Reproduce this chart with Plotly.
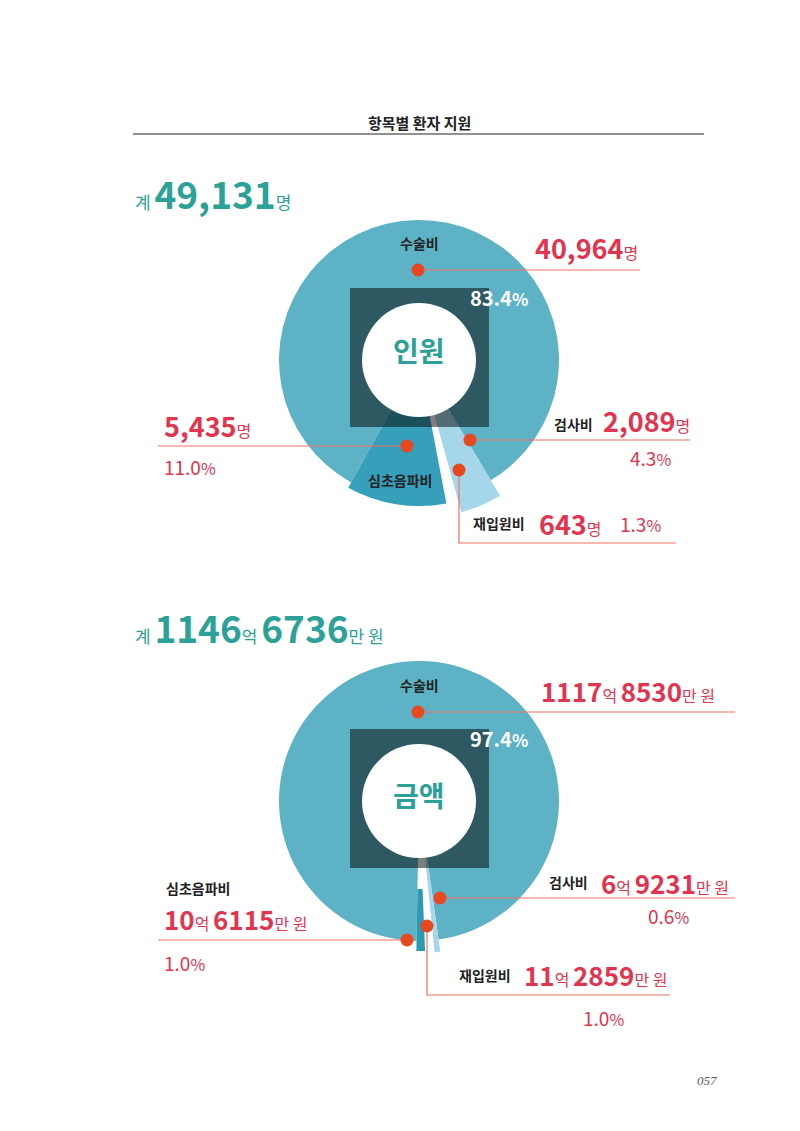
import plotly.graph_objects as go

W, H = 800, 1131

# ---------------- data ----------------
categories = ["수술비", "검사비", "재입원비", "심초음파비"]
people_counts = [40964, 2089, 643, 5435]
people_pct = [83.4, 4.3, 1.3, 11.0]
people_total = 49131
amount_man = [11178530, 69231, 112859, 106115]     # 단위: 만 원
amount_pct = [97.4, 0.6, 1.0, 1.0]
amount_total_man = 11466736

# ---------------- style ----------------
slice_colors_1 = ["#5db2c6", "#a6d6ea", "#ffffff", "#369fb9"]
slice_r_1 = [140, 158, 140, 146]
slice_base_1 = [0, 55, 0, 0]
start_1 = 209

slice_colors_2 = ["#5db2c6", "#a6d6ea", "#ffffff", "#2b9ab2"]
slice_r_2 = [140, 152, 140, 150]
slice_base_2 = [0, 46, 0, 88]
start_2 = 181

TEAL = "#2ba197"
RED = "#e2344f"
LINE = "#ef7264"
DOT = "#e8481f"
FONT = "Noto Sans CJK KR"


def px(x):
    return x / W


def py(y):
    return 1 - y / H


def angles(values, start):
    tot = float(sum(values))
    widths = [v / tot * 360 for v in values]
    thetas, acc = [], start
    for w in widths:
        thetas.append(acc + w / 2)
        acc += w
    return thetas, widths


fig = go.Figure()

for values, colors, radii, bases, start, pol in [
    (people_counts, slice_colors_1, slice_r_1, slice_base_1, start_1, "polar"),
    (amount_man, slice_colors_2, slice_r_2, slice_base_2, start_2, "polar2"),
]:
    thetas, widths = angles(values, start)
    for i, cat in enumerate(categories):
        fig.add_trace(go.Barpolar(
            r=[radii[i] - bases[i]], theta=[thetas[i]], width=[widths[i]],
            base=[bases[i]], name=cat, subplot=pol,
            marker=dict(color=colors[i], line=dict(width=0)),
            hoverinfo="skip", showlegend=False))


def polar_layout(cx, cy, half=170):
    return dict(
        domain=dict(x=[px(cx - half), px(cx + half)], y=[py(cy + half), py(cy - half)]),
        radialaxis=dict(range=[0, half], visible=False),
        angularaxis=dict(rotation=90, direction="clockwise", visible=False),
        bgcolor="rgba(0,0,0,0)", barmode="overlay", hole=0)


shapes = []
annotations = []


def ann(x, y, text, size, color, xanchor="center", family=FONT):
    annotations.append(dict(x=px(x), y=py(y), xref="paper", yref="paper", text=text,
                            showarrow=False, xanchor=xanchor, yanchor="middle",
                            font=dict(size=size, color=color, family=family)))


def line(points, color=LINE, width=1.2):
    path = "M " + " L ".join(f"{px(x)},{py(y)}" for x, y in points)
    shapes.append(dict(type="path", path=path, xref="paper", yref="paper",
                       line=dict(color=color, width=width), layer="above"))


def dot(x, y, r=6.5):
    shapes.append(dict(type="circle", xref="paper", yref="paper",
                       x0=px(x - r), x1=px(x + r), y0=py(y + r), y1=py(y - r),
                       fillcolor=DOT, line=dict(width=0), layer="above"))


def square_and_hole(cx, cy, sq_top):
    shapes.append(dict(type="rect", xref="paper", yref="paper",
                       x0=px(350), x1=px(489), y0=py(sq_top + 139), y1=py(sq_top),
                       fillcolor="rgba(0,0,0,0.5)", line=dict(width=0), layer="above"))
    r = 57
    shapes.append(dict(type="circle", xref="paper", yref="paper",
                       x0=px(cx - r), x1=px(cx + r), y0=py(cy + r), y1=py(cy - r),
                       fillcolor="white", line=dict(width=0), layer="above"))


def small(t, s):
    return f"<span style='font-size:{s}px'>{t}</span>"


def money(v, s):
    e, m = divmod(v, 10000)
    return f"<b>{e}</b>{small('억 ', s)}<b>{m}</b>{small('만 원', s)}"


def pct(p, s):
    return f"{p:.1f}{small('%', s)}"


# title
ann(419, 123, "<b>항목별 환자 지원</b>", 15, "#222")
line([(133, 134), (704, 134)], color="#222", width=1)

# ---------------- chart 1 : 인원 ----------------
square_and_hole(419, 360, 288)
ann(133, 193, small("계 ", 17) + f"<b>{people_total:,}</b>" + small("명", 17), 37, TEAL, "left")
ann(419, 243, "<b>수술비</b>", 14, "#222")
ann(533, 248, f"<b>{people_counts[0]:,}</b>" + small("명", 16), 27, RED, "left")
line([(418, 270), (640, 270)]); dot(418, 270)
ann(499, 297, "<b>" + pct(people_pct[0], 17) + "</b>", 20, "white")
ann(419, 350, "<b>인원</b>", 28, TEAL)

ann(162, 426, f"<b>{people_counts[3]:,}</b>" + small("명", 16), 27, RED, "left")
line([(158, 446), (407, 446)]); dot(407, 446)
ann(162, 466, pct(people_pct[3], 16), 19, RED, "left")
ann(400, 480, "<b>심초음파비</b>", 14, "#222")

ann(573, 424, "<b>검사비</b>", 14, "#222")
ann(601, 421, f"<b>{people_counts[1]:,}</b>" + small("명", 16), 27, RED, "left")
line([(470, 440), (690, 440)]); dot(470, 440)
ann(650, 457, pct(people_pct[1], 16), 19, RED)

line([(459, 470), (459, 543), (676, 543)]); dot(459, 470)
ann(499, 523, "<b>재입원비</b>", 14, "#222")
ann(537, 523, f"<b>{people_counts[2]:,}</b>" + small("명", 16), 27, RED, "left")
ann(640, 523, pct(people_pct[2], 16), 19, RED)

# ---------------- chart 2 : 금액 ----------------
square_and_hole(419, 801, 729)
e, m = divmod(amount_total_man, 10000)
ann(133, 627, small("계 ", 17) + f"<b>{e}</b>" + small("억 ", 17) + f"<b>{m}</b>" + small("만 원", 17),
    37, TEAL, "left")
ann(419, 685, "<b>수술비</b>", 14, "#222")
ann(539, 690, money(amount_man[0], 16), 26, RED, "left")
line([(418, 712), (735, 712)]); dot(418, 712)
ann(499, 738, "<b>" + pct(amount_pct[0], 17) + "</b>", 20, "white")
ann(419, 795, "<b>금액</b>", 28, TEAL)

ann(164, 888, "<b>심초음파비</b>", 14, "#222", "left")
ann(162, 918, money(amount_man[3], 16), 26, RED, "left")
line([(158, 940), (407, 940)]); dot(407, 940)
ann(162, 962, pct(amount_pct[3], 16), 19, RED, "left")

ann(568, 882, "<b>검사비</b>", 14, "#222")
ann(599, 882, money(amount_man[1], 16), 26, RED, "left")
line([(440, 898), (735, 898)]); dot(440, 898)
ann(668, 915, pct(amount_pct[1], 16), 19, RED)

line([(427, 926), (427, 995), (670, 995)]); dot(427, 926)
ann(485, 975, "<b>재입원비</b>", 14, "#222")
ann(522, 975, money(amount_man[2], 16), 26, RED, "left")
ann(603, 1017, pct(amount_pct[2], 16), 19, RED)

ann(707, 1080, "<i>057</i>", 13, "#555", family="Liberation Serif")

fig.update_layout(
    width=W, height=H, autosize=False,
    margin=dict(l=0, r=0, t=0, b=0),
    paper_bgcolor="white", plot_bgcolor="white",
    polar=polar_layout(419, 360),
    polar2=polar_layout(419, 801),
    shapes=shapes, annotations=annotations,
    showlegend=False,
)

fig.write_html("out.html")
